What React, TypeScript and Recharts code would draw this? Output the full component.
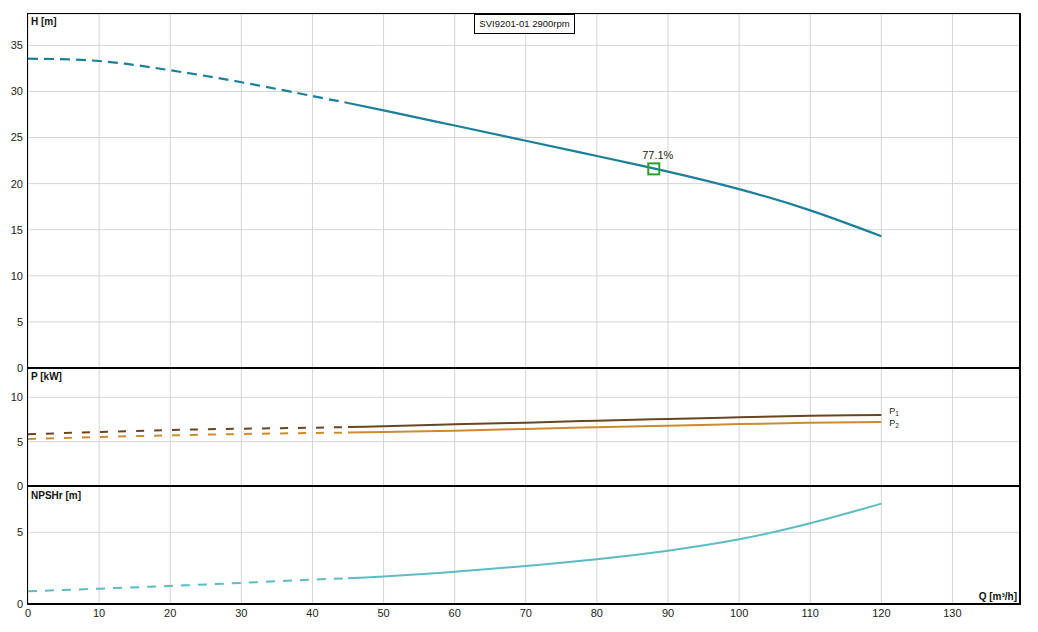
import React from 'react';
import { ComposedChart, Line, XAxis, YAxis, CartesianGrid, Scatter } from 'recharts';

// ---- data ----
const qTicks = [0, 10, 20, 30, 40, 50, 60, 70, 80, 90, 100, 110, 120, 130];
const hTicks = [0, 5, 10, 15, 20, 25, 30, 35];
const pTicks = [0, 5, 10];
const nTicks = [0, 5];

const qDash = [0, 10, 20, 30, 40, 45];
const qSolid = [45, 50, 60, 70, 80, 90, 100, 110, 120];

const hDash = [33.55, 33.3, 32.3, 31.0, 29.5, 28.75];
const hSolid = [28.75, 27.95, 26.3, 24.65, 23.0, 21.3, 19.4, 17.1, 14.3];

const p1Dash = [5.83, 6.09, 6.31, 6.46, 6.57, 6.65];
const p1Solid = [6.65, 6.73, 6.95, 7.14, 7.36, 7.55, 7.75, 7.92, 8.0];
const p2Dash = [5.3, 5.52, 5.71, 5.86, 5.98, 6.02];
const p2Solid = [6.02, 6.09, 6.24, 6.43, 6.62, 6.8, 6.98, 7.12, 7.2];

const nDash = [0.89, 1.07, 1.26, 1.47, 1.7, 1.8];
const nSolid = [1.8, 1.91, 2.25, 2.65, 3.12, 3.72, 4.51, 5.63, 7.0];

const bepQ = [88];
const bepH = [21.6];
const bepEff = [77.1];

const title = 'SVI9201-01 2900rpm';

// ---- derived rows ----
const rows = (qs: number[], vs: number[]) => qs.map((q, i) => ({ q, v: vs[i] }));
const bepRows = bepQ.map((q, i) => ({ q, v: bepH[i], eff: bepEff[i] }));

const X_MAX = 139.5;
const FONT = '"Liberation Sans", Arial, sans-serif';
const tickStyle = { fontSize: 11, fill: '#222', fontFamily: FONT };
const GRID = '#d4d4d4';

const C_H = '#1b7f9c';
const C_P1 = '#6a4620';
const C_P2 = '#cf8a2e';
const C_N = '#5bbdc3';

const BepShape = (props: any) => {
  const { cx, cy, payload } = props;
  return (
    <g>
      <rect x={cx - 5.5} y={cy - 5.5} width={11} height={11} fill="none" stroke="#2aa02a" strokeWidth={2} />
      <text x={cx + 4} y={cy - 10} textAnchor="middle" fontSize={11} fill="#222" fontFamily={FONT}>
        {payload.eff.toFixed(1)}%
      </text>
    </g>
  );
};

const endLabel = (sub: string, last: number, dy: number) => (props: any) => {
  const { x, y, index } = props;
  if (index !== last) return null;
  return (
    <text x={x + 8} y={y + dy} fontSize={9} fill="#222" fontFamily={FONT}>
      P
      <tspan fontSize={6.5} dy={1.5}>{sub}</tspan>
    </text>
  );
};

const xAxisHidden = (
  <XAxis type="number" dataKey="q" domain={[0, X_MAX]} ticks={qTicks} hide allowDataOverflow />
);

const yAxisProps = {
  type: 'number' as const,
  width: 28,
  axisLine: false,
  tickLine: false,
  tickSize: 3,
  tickMargin: 2,
  tick: tickStyle,
  interval: 0 as const,
  allowDataOverflow: true,
};

const textStyle: React.CSSProperties = {
  position: 'absolute',
  fontFamily: FONT,
  fontSize: 10,
  fontWeight: 'bold',
  color: '#111',
  lineHeight: '12px',
  whiteSpace: 'nowrap',
};

const sepStyle = (top: number): React.CSSProperties => ({
  position: 'absolute', left: 27, top, width: 994, height: 2, background: '#000', pointerEvents: 'none',
});

export default function App() {
  return (
    <div style={{ position: 'absolute', left: 0, top: 0, width: 1038, height: 632, background: '#fff' }}>
      {/* H panel */}
      <div style={{ position: 'absolute', left: 0, top: 0 }}>
        <ComposedChart width={1038} height={380} margin={{ top: 14, right: 18, bottom: 12, left: 0 }}>
          <CartesianGrid stroke={GRID} />
          {xAxisHidden}
          <YAxis {...yAxisProps} domain={[0, 38.4]} ticks={hTicks} />
          <Line data={rows(qDash, hDash)} dataKey="v" type="natural" stroke={C_H} strokeWidth={2.2}
            strokeDasharray="10 6" dot={false} isAnimationActive={false} />
          <Line data={rows(qSolid, hSolid)} dataKey="v" type="natural" stroke={C_H} strokeWidth={2.2}
            dot={false} isAnimationActive={false} />
          <Scatter data={bepRows} dataKey="v" shape={BepShape} isAnimationActive={false} />
        </ComposedChart>
      </div>

      {/* P panel */}
      <div style={{ position: 'absolute', left: 0, top: 356 }}>
        <ComposedChart width={1038} height={142} margin={{ top: 12, right: 18, bottom: 12, left: 0 }}>
          <CartesianGrid stroke={GRID} />
          {xAxisHidden}
          <YAxis {...yAxisProps} domain={[0, 13.3]} ticks={pTicks} />
          <Line data={rows(qDash, p1Dash)} dataKey="v" type="natural" stroke={C_P1} strokeWidth={2}
            strokeDasharray="8 10" dot={false} isAnimationActive={false} />
          <Line data={rows(qDash, p2Dash)} dataKey="v" type="natural" stroke={C_P2} strokeWidth={2}
            strokeDasharray="8 10" dot={false} isAnimationActive={false} />
          <Line data={rows(qSolid, p1Solid)} dataKey="v" type="natural" stroke={C_P1} strokeWidth={2}
            dot={false} isAnimationActive={false} label={endLabel('1', qSolid.length - 1, -1)} />
          <Line data={rows(qSolid, p2Solid)} dataKey="v" type="natural" stroke={C_P2} strokeWidth={2}
            dot={false} isAnimationActive={false} label={endLabel('2', qSolid.length - 1, 4)} />
        </ComposedChart>
      </div>

      {/* NPSHr panel */}
      <div style={{ position: 'absolute', left: 0, top: 474 }}>
        <ComposedChart width={1038} height={158} margin={{ top: 12, right: 18, bottom: 0, left: 0 }}>
          <CartesianGrid stroke={GRID} />
          <XAxis type="number" dataKey="q" domain={[0, X_MAX]} ticks={qTicks} height={28}
            axisLine={false} tickLine={false} tickSize={3} tickMargin={2} tick={tickStyle} interval={0}
            allowDataOverflow />
          <YAxis {...yAxisProps} domain={[0, 8.23]} ticks={nTicks} />
          <Line data={rows(qDash, nDash)} dataKey="v" type="natural" stroke={C_N} strokeWidth={2}
            strokeDasharray="9 8" dot={false} isAnimationActive={false} />
          <Line data={rows(qSolid, nSolid)} dataKey="v" type="natural" stroke={C_N} strokeWidth={2}
            dot={false} isAnimationActive={false} />
        </ComposedChart>
      </div>

      {/* frame & separators */}
      <div style={{
        position: 'absolute', left: 27, top: 13, width: 994, height: 592, boxSizing: 'border-box',
        borderTop: '1px solid #000', borderLeft: '1px solid #000',
        borderRight: '2px solid #000', borderBottom: '2px solid #000', pointerEvents: 'none',
      }} />
      <div style={sepStyle(367)} />
      <div style={sepStyle(485)} />

      {/* title box */}
      <div style={{
        position: 'absolute', left: 474, top: 14, width: 101, height: 20, boxSizing: 'border-box',
        border: '1px solid #000', background: '#fff', fontFamily: FONT, fontSize: 9.5, color: '#111',
        textAlign: 'center', lineHeight: '18px', whiteSpace: 'nowrap',
      }}>{title}</div>

      <div style={{ ...textStyle, left: 31, top: 16 }}>H [m]</div>
      <div style={{ ...textStyle, left: 31, top: 371 }}>P [kW]</div>
      <div style={{ ...textStyle, left: 31, top: 490 }}>NPSHr [m]</div>
      <div style={{ ...textStyle, right: 1038 - 1017, top: 591 }}>Q [m³/h]</div>
    </div>
  );
}
